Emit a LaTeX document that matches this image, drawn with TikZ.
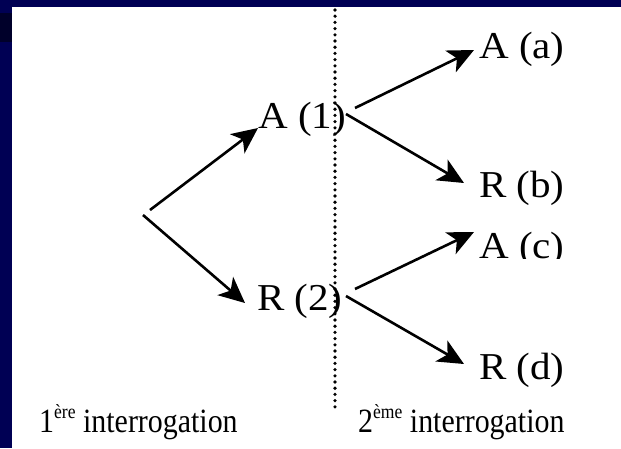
\documentclass[tikz,border=0pt]{standalone}
\usepackage{fontspec}
\setmainfont{Liberation Serif}
\newfontfamily\lblfont[FakeStretch=1.08]{Liberation Serif}
\newfontfamily\botfont[FakeStretch=0.88]{Liberation Serif}
\usetikzlibrary{arrows.meta}
\definecolor{navy}{RGB}{0,0,84}
\definecolor{darknavy}{RGB}{0,0,42}
\tikzset{
  lbl/.style={inner sep=0pt, anchor=base west, font=\lblfont\fontsize{38}{40}\selectfont},
  bot/.style={inner sep=0pt, anchor=base west, font=\botfont\fontsize{34}{38}\selectfont},
  arr/.style={line width=2.6pt, -{Stealth[length=26pt,width=24pt,inset=7pt]}},
  sep/.style={line width=3.6pt, line cap=round, dash pattern=on 0pt off 6.2pt}
}
\newcommand{\supr}[1]{\raisebox{14pt}{\fontsize{20}{20}\selectfont #1}}
\begin{document}
\begin{tikzpicture}[x=1pt,y=-1pt]
\useasboundingbox (0,0) rectangle (621,448);
\fill[navy] (0,0) rectangle (621,448);
\fill[darknavy] (0,13) rectangle (12,42);
\fill[white] (12,7) rectangle (621,448);
% separator
\coordinate (top) at (335,10);
\coordinate (bottom) at (335,410);
\draw[sep] (top) -- (bottom);
% labels
\node[lbl] (A1) at (258,128) {A (1)};
\node[lbl] (R2) at (257,310) {R (2)};
\node[lbl] (Aa) at (479,58) {A (a)};
\node[lbl] (Rb) at (479,197) {R (b)};
\begin{scope}
\clip (400,200) rectangle (621,258);
\node[lbl] (Ac) at (479,258) {A (c)};
\end{scope}
\node[lbl] (Rd) at (479,379) {R (d)};
\node[bot] (q1) at (39,432) {1\supr{ère} interrogation};
\node[bot] (q2) at (358,432) {2\supr{ème} interrogation};
% branch points
\coordinate (root1) at (150,210);
\coordinate (root2) at (143,215);
\coordinate (a1s) at (355,108);
\coordinate (b1s) at (346,114);
\coordinate (c2s) at (355,289);
\coordinate (d2s) at (346,296);
\coordinate (tA1) at (258,128);
\coordinate (tR2) at (245,303);
\coordinate (tAa) at (474,50);
\coordinate (tRb) at (464,183);
\coordinate (tAc) at (474,232);
\coordinate (tRd) at (464,364);
\draw[arr] (root1) -- (tA1);
\draw[arr] (root2) -- (tR2);
\draw[arr] (a1s) -- (tAa);
\draw[arr] (b1s) -- (tRb);
\draw[arr] (c2s) -- (tAc);
\draw[arr] (d2s) -- (tRd);
\end{tikzpicture}
\end{document}
